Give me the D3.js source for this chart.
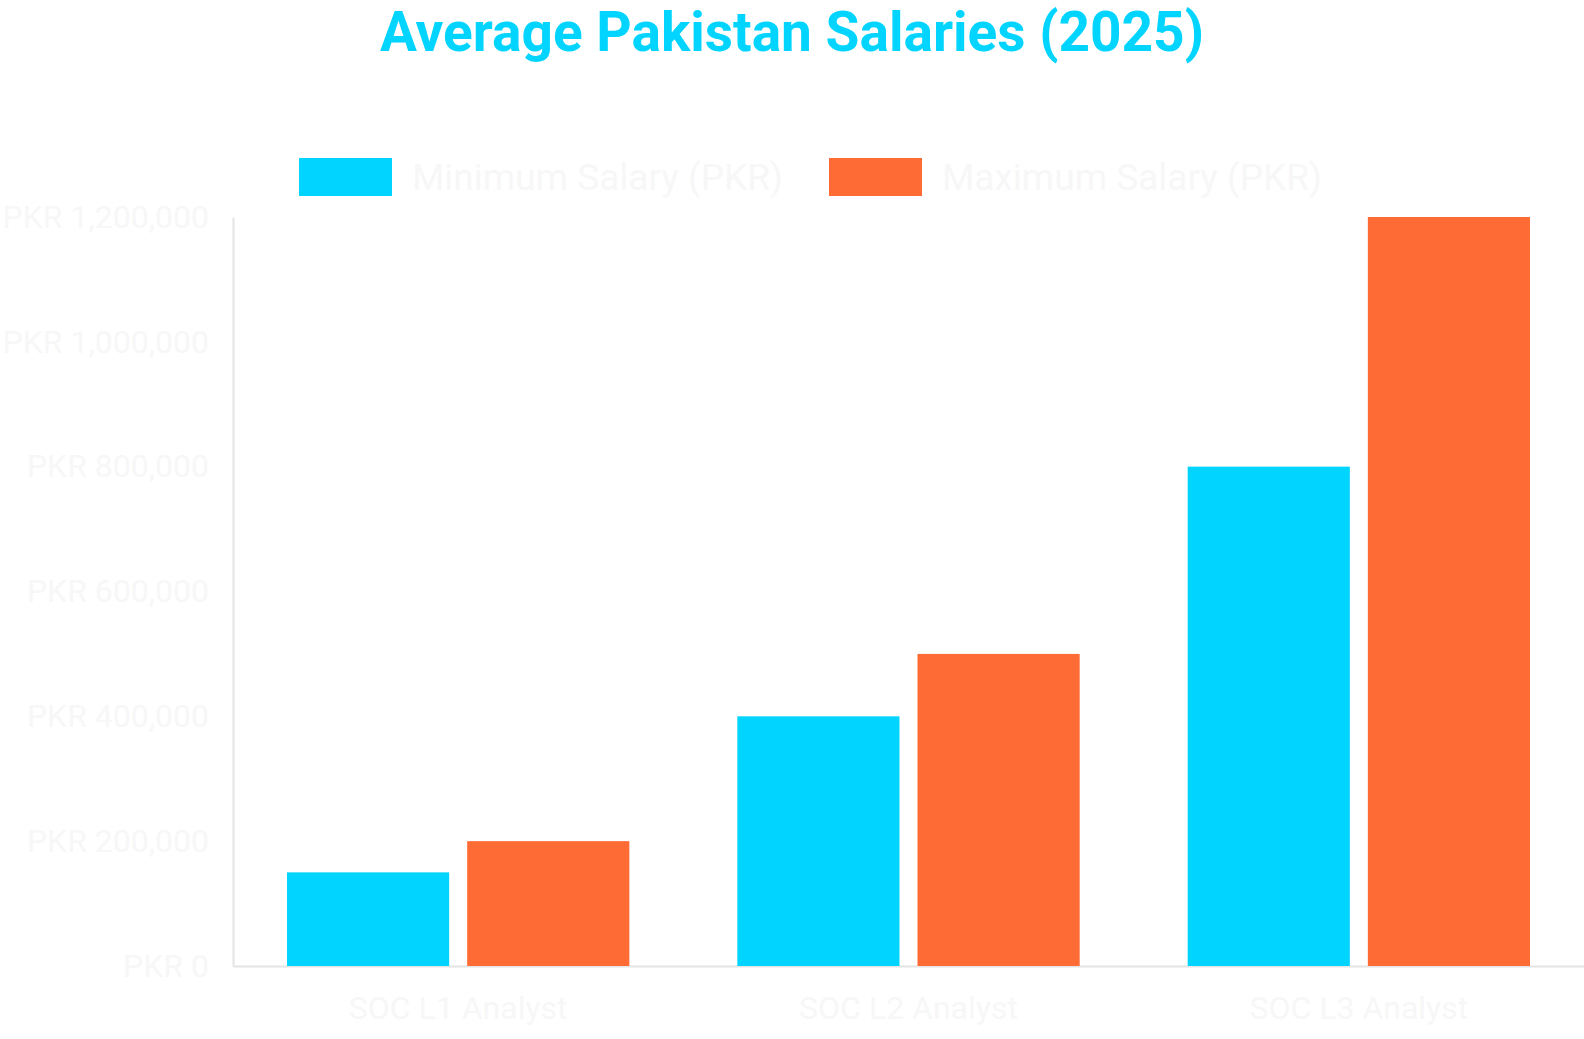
<!DOCTYPE html>
<html><head><meta charset="utf-8">
<script src="https://cdn.jsdelivr.net/npm/d3@7"></script>
<style>html,body{margin:0;padding:0;background:#fff;}svg{display:block;font-family:Roboto,"Noto Sans",sans-serif;}</style>
</head><body>
<script>
const categories = ["SOC L1 Analyst", "SOC L2 Analyst", "SOC L3 Analyst"];
const seriesNames = ["Minimum Salary (PKR)", "Maximum Salary (PKR)"];
const minSalary = [150000, 400000, 800000];
const maxSalary = [200000, 500000, 1200000];
const yTicks = [0, 200000, 400000, 600000, 800000, 1000000, 1200000];
const colors = ["#00d4ff", "#ff6b35"];

const W = 1584, H = 1039;
const plotLeft = 233, plotRight = 1584, plotTop = 217, plotBottom = 966;
const textColor = "#f7f7f7";
const svg = d3.select("body").append("svg").attr("width", W).attr("height", H);

const x0 = d3.scaleBand().domain(categories).range([plotLeft, plotRight]).padding(0);
const x1 = d3.scaleBand().domain(seriesNames).range([54, x0.bandwidth() - 54]).paddingInner(0.1);
const y = d3.scaleLinear().domain([0, 1200000]).range([plotBottom, plotTop]);

const fmt = v => "PKR " + d3.format(",")(v);

// y axis
const yAxis = svg.append("g").attr("transform", `translate(${plotLeft},0)`)
  .call(d3.axisLeft(y).tickValues(yTicks).tickFormat(fmt).tickSize(0).tickPadding(24));
yAxis.select(".domain").attr("stroke", "#e4e4e4").attr("stroke-width", 2);
yAxis.selectAll("text").attr("fill", textColor).style("font-size", "32px").attr("font-family", "Roboto");

// x axis
const xAxis = svg.append("g").attr("transform", `translate(0,${plotBottom})`)
  .call(d3.axisBottom(x0).tickSize(0).tickPadding(30));
xAxis.select(".domain").attr("stroke", "#e4e4e4").attr("stroke-width", 2);
xAxis.selectAll("text").attr("fill", textColor).style("font-size", "32px").attr("font-family", "Roboto")
  .attr("dy", "0.71em");

// bars
const data = categories.map((c, i) => ({cat: c, vals: [minSalary[i], maxSalary[i]]}));
const g = svg.append("g");
const groups = g.selectAll("g").data(data).join("g")
  .attr("transform", d => `translate(${x0(d.cat)},0)`);
groups.selectAll("rect").data(d => d.vals.map((v, j) => ({name: seriesNames[j], v, j})))
  .join("rect")
  .attr("x", d => x1(d.name))
  .attr("width", x1.bandwidth())
  .attr("y", d => y(d.v))
  .attr("height", d => y(0) - y(d.v))
  .attr("fill", d => colors[d.j]);

// legend
const legendX = [299, 829];
seriesNames.forEach((s, i) => {
  svg.append("rect").attr("x", legendX[i]).attr("y", 158).attr("width", 93).attr("height", 38).attr("fill", colors[i]);
  svg.append("text").attr("x", legendX[i] + 113).attr("y", 177).attr("dy", "0.35em")
    .attr("fill", textColor).style("font-size", "37px").text(s);
});

// title
svg.append("text").attr("x", W / 2).attr("y", 51).attr("text-anchor", "middle")
  .attr("fill", "#00d4ff").style("font-size", "55px").style("font-weight", "bold")
  .text("Average Pakistan Salaries (2025)");
</script>
</body></html>
